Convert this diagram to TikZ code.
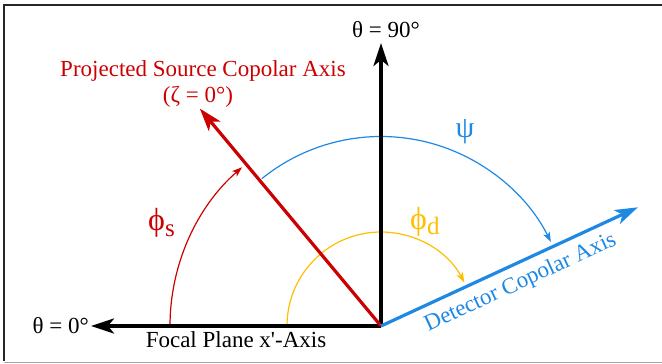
\documentclass[tikz,border=0pt]{standalone}
\usepackage{fontspec}
\setmainfont{Liberation Serif}[Ligatures=TeXOff]
\usetikzlibrary{arrows.meta}
\definecolor{axred}{RGB}{204,0,0}
\definecolor{axblue}{RGB}{30,136,229}
\definecolor{axyellow}{RGB}{255,190,0}
\newcommand\lblfont{\fontsize{23}{27}\selectfont}
\newcommand\bigfont{\fontsize{32}{34}\selectfont}
\newcommand\subfont{\fontsize{25}{27}\selectfont}
\begin{document}
\begin{tikzpicture}[x=1pt,y=1pt,
  axis/.style={line width=3.2pt,-{Stealth[length=23pt,width=15pt,inset=6pt]}},
  angarc/.style={line width=1.2pt,-{Stealth[length=10pt,width=7pt,inset=2.5pt]}},
  lbl/.style={inner sep=0pt,font=\lblfont}]
\useasboundingbox (0,0) rectangle (662,364);
% frame
\draw[line width=2pt,black!85] (4,2.5) -- (4,358.5) -- (662,358.5);
\draw[line width=1.5pt,black!35] (4,1.5) -- (662,1.5);
% points
\coordinate (O) at (381,38);
\coordinate (Vt) at (381,321);
\coordinate (Ht) at (91,38);
\coordinate (Rt) at ([shift={(129.8:283)}]O);
\coordinate (Bt) at ([shift={(24.8:283)}]O);
% arcs
\draw[angarc,axred] ([shift={(180:211)}]O) arc[start angle=180,end angle=131.2,radius=211];
\draw[angarc,axblue] ([shift={(129:189.5)}]O) arc[start angle=129,end angle=26.3,radius=189.5];
\draw[angarc,axyellow] ([shift={(180:94)}]O) arc[start angle=180,end angle=27.6,radius=94];
% axes
\draw[axis,black] (O) -- (Vt);
\draw[axis,black] (O) -- (Ht);
\draw[axis,axred] (O) -- (Rt);
\draw[axis,axblue] (O) -- (Bt);
% labels
\node[lbl,anchor=base] (t90) at (386,326.7) {θ = 90°};
\node[lbl,anchor=east] (t0) at (89,38) {θ = 0°};
\node[lbl,anchor=base] (fp) at (236,16.5) {Focal Plane x'-Axis};
\node[lbl,anchor=base,text=axred] (ps) at (203,287.5) {Projected Source Copolar Axis};
\node[lbl,anchor=base,text=axred] (zeta) at (198,261) {(ζ = 0°)};
\node[lbl,anchor=base,text=axblue,rotate=24.8] (dca) at (523,76) {Detector Copolar Axis};
\node[inner sep=0pt,text=axblue,font=\fontsize{30}{32}\selectfont] (psi) at (465,232) {ψ};
\node[inner sep=0pt,text=axred,anchor=base west] (phis) at (148,133) {\bigfont ϕ\raisebox{-6pt}{\subfont s}};
\node[inner sep=0pt,text=axyellow,anchor=base west] (phid) at (410,134) {\bigfont ϕ\raisebox{-5pt}{\subfont d}};
\end{tikzpicture}
\end{document}
